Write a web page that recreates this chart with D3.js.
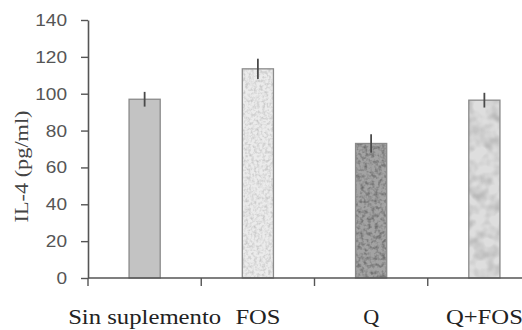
<!DOCTYPE html>
<html>
<head>
<meta charset="utf-8">
<script src="https://cdn.jsdelivr.net/npm/d3@7"></script>
<style>
  body { margin: 0; background: #fff; }
  svg { display: block; overflow: hidden; }
</style>
</head>
<body>
<svg id="chart" width="522" height="330"></svg>
<script>
// values
const categories = ["Sin suplemento", "FOS", "Q", "Q+FOS"];
const means = [97, 113.5, 73, 96.5];
const errors = [4, 5.5, 5, 4];
const yTicks = [0, 20, 40, 60, 80, 100, 120, 140];

const width = 522, height = 330;
const margin = {top: 20, left: 88, bottom: 52};
const plotRight = 541; // plot runs past the right edge of the picture

const fills = ["#c3c3c3", "#ebebeb", "#a3a3a3", "#dedede"];
const noise = [
  {freq: 0.3, amt: 0.0},
  {freq: 0.35, amt: 0.35},
  {freq: 0.28, amt: 0.75},
  {freq: 0.08, amt: 0.45}
];

const svg = d3.select("#chart");

const x = d3.scaleBand()
  .domain(categories)
  .range([margin.left, plotRight]);

const y = d3.scaleLinear()
  .domain([0, 140])
  .range([height - margin.bottom, margin.top]);

const barW = x.bandwidth() * 0.275;

// texture filters for the bars
const defs = svg.append("defs");
noise.forEach((n, i) => {
  const f = defs.append("filter")
    .attr("id", "tex" + i)
    .attr("x", 0).attr("y", 0).attr("width", 1).attr("height", 1);
  f.append("feTurbulence")
    .attr("type", "fractalNoise")
    .attr("baseFrequency", n.freq)
    .attr("numOctaves", 2)
    .attr("seed", i + 3)
    .attr("result", "n");
  f.append("feColorMatrix")
    .attr("in", "n")
    .attr("type", "matrix")
    .attr("values", `0 0 0 0 0  0 0 0 0 0  0 0 0 0 0  ${n.amt} 0 0 0 ${-n.amt * 0.4}`)
    .attr("result", "a");
  f.append("feComposite")
    .attr("in", "a")
    .attr("in2", "SourceGraphic")
    .attr("operator", "in");
});

const bars = svg.append("g");

bars.selectAll("rect.base")
  .data(means)
  .enter().append("rect")
    .attr("class", "base")
    .attr("x", (d, i) => x(categories[i]) + (x.bandwidth() - barW) / 2)
    .attr("y", d => y(d))
    .attr("width", barW)
    .attr("height", d => y(0) - y(d))
    .attr("fill", (d, i) => fills[i]);

bars.selectAll("rect.tex")
  .data(means)
  .enter().append("rect")
    .attr("class", "tex")
    .attr("x", (d, i) => x(categories[i]) + (x.bandwidth() - barW) / 2)
    .attr("y", d => y(d))
    .attr("width", barW)
    .attr("height", d => y(0) - y(d))
    .attr("fill", "#000")
    .attr("filter", (d, i) => `url(#tex${i})`);

bars.selectAll("rect.edge")
  .data(means)
  .enter().append("rect")
    .attr("class", "edge")
    .attr("x", (d, i) => x(categories[i]) + (x.bandwidth() - barW) / 2)
    .attr("y", d => y(d))
    .attr("width", barW)
    .attr("height", d => y(0) - y(d))
    .attr("fill", "none")
    .attr("stroke", "#8a8a8a")
    .attr("stroke-width", 1.3);

// error bars, no caps
svg.append("g")
  .attr("stroke", "#4a4a4a")
  .attr("stroke-width", 1.8)
  .selectAll("line")
  .data(means)
  .enter().append("line")
    .attr("x1", (d, i) => x(categories[i]) + x.bandwidth() / 2)
    .attr("x2", (d, i) => x(categories[i]) + x.bandwidth() / 2)
    .attr("y1", (d, i) => y(d + errors[i]))
    .attr("y2", (d, i) => y(d - errors[i]));

// y axis
const yAxis = svg.append("g")
  .attr("transform", `translate(${margin.left},0)`)
  .call(d3.axisLeft(y).tickValues(yTicks).tickSize(7).tickPadding(14).tickSizeOuter(0));
yAxis.select(".domain").attr("stroke", "#555").attr("stroke-width", 1.6);
yAxis.selectAll(".tick line").attr("stroke", "#555").attr("stroke-width", 1.4);
yAxis.selectAll(".tick text")
  .attr("fill", "#555")
  .style("font-family", "'Liberation Sans', Arial, sans-serif")
  .style("font-size", "17px")
  .attr("textLength", d => String(d).length * 10.6)
  .attr("lengthAdjust", "spacingAndGlyphs");

// x axis: ticks sit on the category boundaries
const xAxis = svg.append("g")
  .attr("transform", `translate(0,${y(0)})`);
xAxis.append("line")
  .attr("x1", margin.left).attr("x2", plotRight)
  .attr("stroke", "#555").attr("stroke-width", 1.6);
xAxis.selectAll("line.tick")
  .data(categories)
  .enter().append("line")
    .attr("class", "tick")
    .attr("x1", d => x(d)).attr("x2", d => x(d))
    .attr("y1", 0).attr("y2", 8)
    .attr("stroke", "#555").attr("stroke-width", 1.4);

const labelWidths = [153, 45, 16, 77];
xAxis.selectAll("text")
  .data(categories)
  .enter().append("text")
    .attr("x", d => x(d) + x.bandwidth() / 2)
    .attr("y", 46)
    .attr("text-anchor", "middle")
    .attr("fill", "#222")
    .style("font-family", "'Liberation Serif', 'Times New Roman', serif")
    .style("font-size", "22px")
    .attr("textLength", (d, i) => labelWidths[i])
    .attr("lengthAdjust", "spacingAndGlyphs")
    .text(d => d);

// y axis title
svg.append("text")
  .attr("transform", `translate(28,166.5) rotate(-90)`)
  .attr("text-anchor", "middle")
  .attr("fill", "#444")
  .style("font-family", "'Liberation Serif', 'Times New Roman', serif")
  .style("font-size", "18px")
  .attr("textLength", 112)
  .attr("lengthAdjust", "spacingAndGlyphs")
  .text("IL-4 (pg/ml)");
</script>
</body>
</html>
